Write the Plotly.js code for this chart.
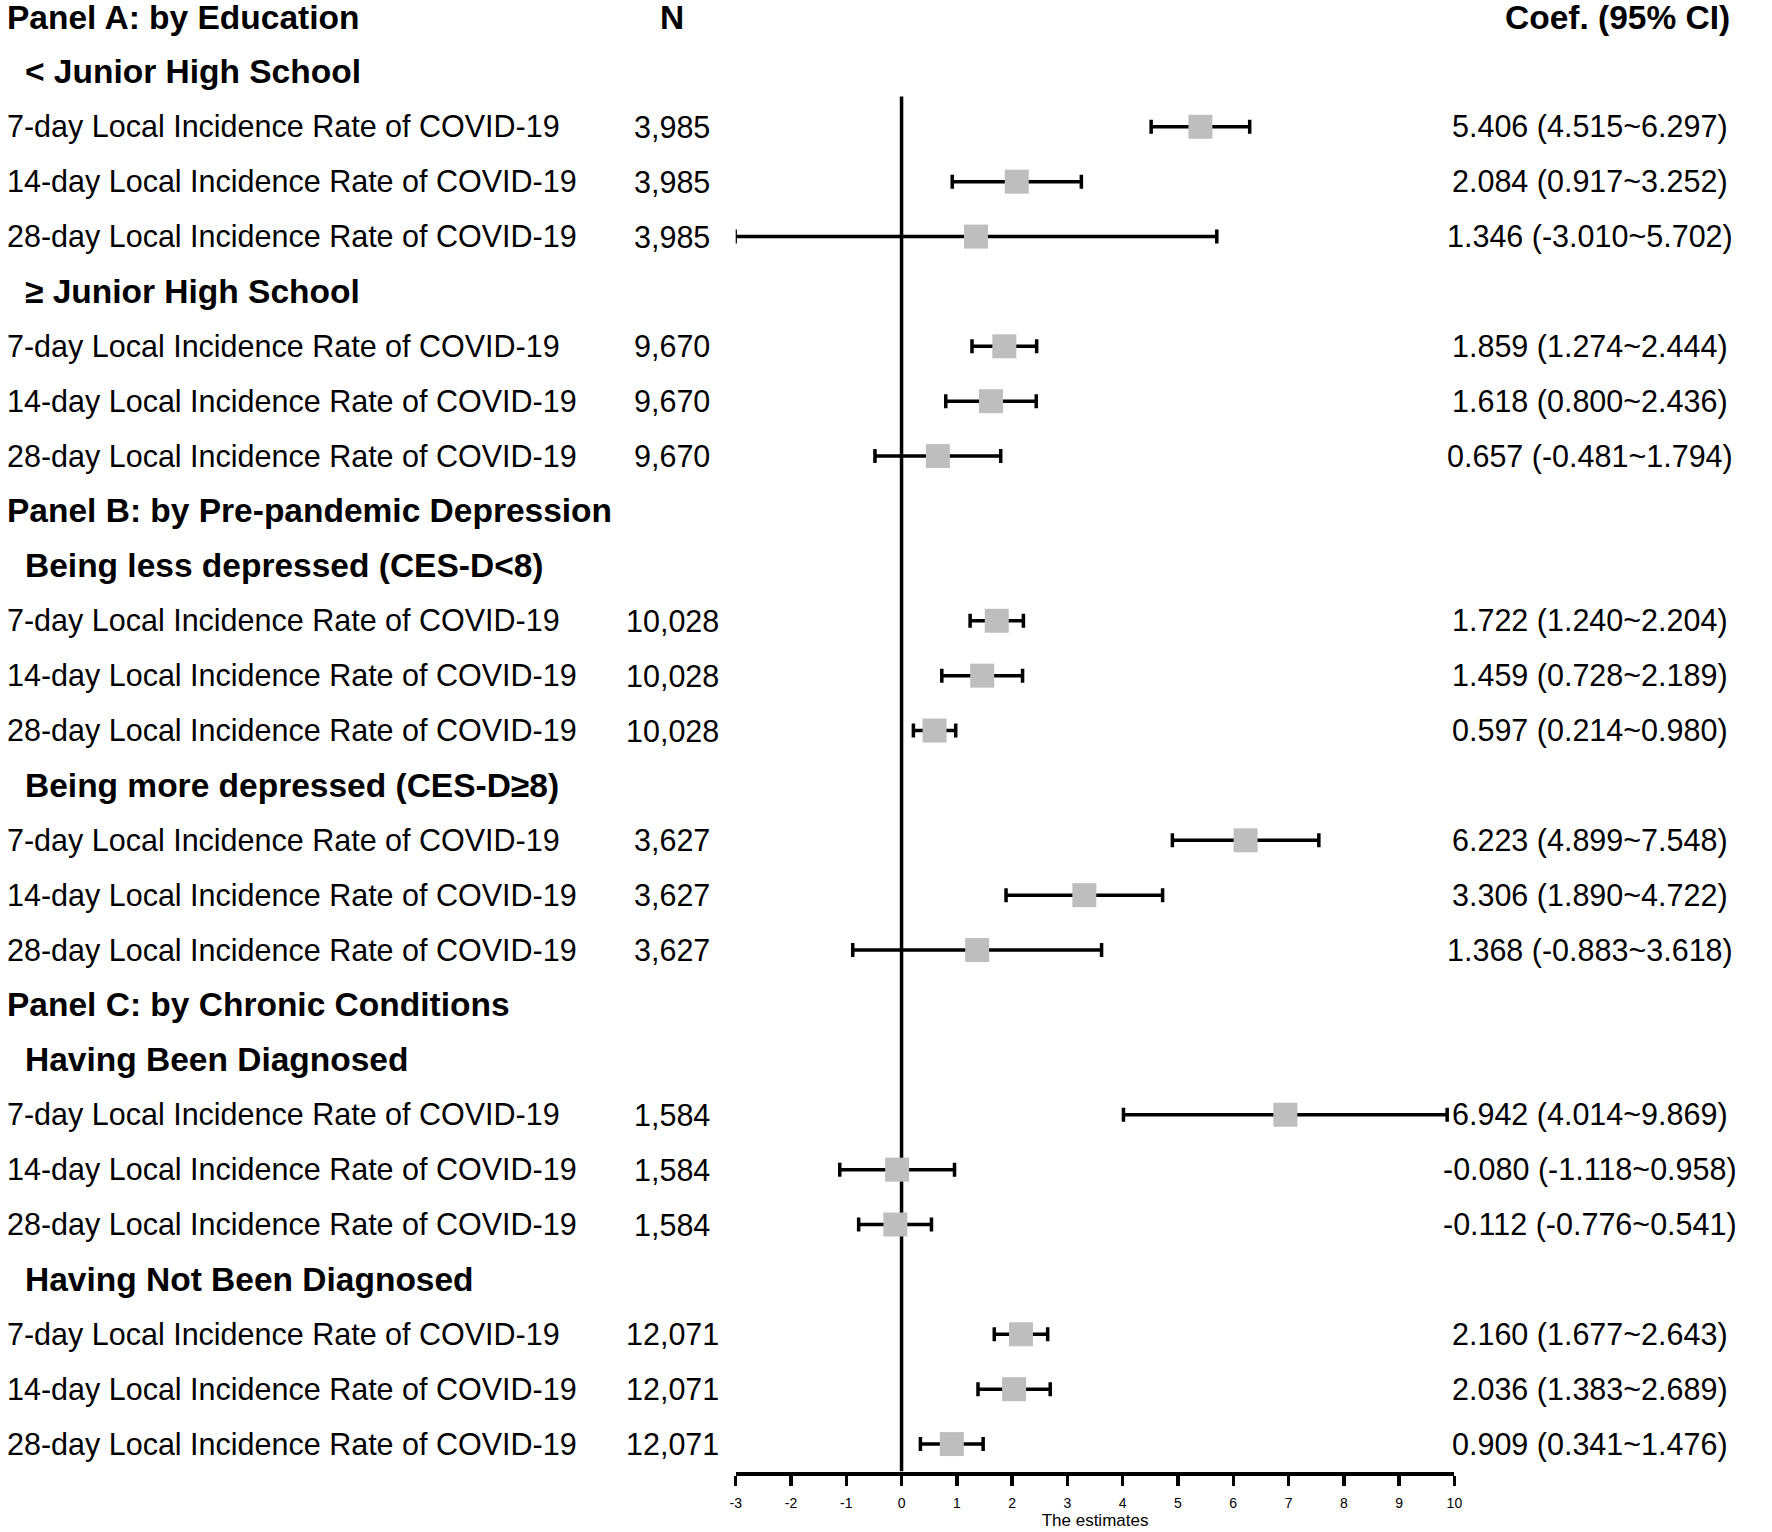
<!DOCTYPE html>
<html>
<head>
<meta charset="utf-8">
<script src="https://cdn.plot.ly/plotly-3.0.1.min.js"></script>
<style>
  html, body { margin: 0; padding: 0; background: #ffffff; }
  #chart { width: 1772px; height: 1532px; }
</style>
</head>
<body>
<div id="chart"></div>
<script>
// ---------------- data ----------------
const panels = [
  "Panel A: by Education",
  "Panel B: by Pre-pandemic Depression",
  "Panel C: by Chronic Conditions"
];
const groups = [
  "< Junior High School",
  "≥ Junior High School",
  "Being less depressed (CES-D<8)",
  "Being more depressed (CES-D≥8)",
  "Having Been Diagnosed",
  "Having Not Been Diagnosed"
];
const measures = [
  "7-day Local Incidence Rate of COVID-19",
  "14-day Local Incidence Rate of COVID-19",
  "28-day Local Incidence Rate of COVID-19"
];
const nByGroup = ["3,985", "9,670", "10,028", "3,627", "1,584", "12,071"];
const coef  = [5.406, 2.084, 1.346, 1.859, 1.618, 0.657, 1.722, 1.459, 0.597, 6.223, 3.306, 1.368, 6.942, -0.080, -0.112, 2.160, 2.036, 0.909];
const lower = [4.515, 0.917, -3.010, 1.274, 0.800, -0.481, 1.240, 0.728, 0.214, 4.899, 1.890, -0.883, 4.014, -1.118, -0.776, 1.677, 1.383, 0.341];
const upper = [6.297, 3.252, 5.702, 2.444, 2.436, 1.794, 2.204, 2.189, 0.980, 7.548, 4.722, 3.618, 9.869, 0.958, 0.541, 2.643, 2.689, 1.476];
const xTicks = [-3, -2, -1, 0, 1, 2, 3, 4, 5, 6, 7, 8, 9, 10];
const xTitle = "The estimates";
const headerN = "N";
const headerCoef = "Coef. (95% CI)";

// ---------------- layout helpers ----------------
const W = 1772, H = 1532;
const FONT = "Liberation Sans, Arial, Helvetica, sans-serif";
const px = v => v / W;

// Build row structure
const rows = [];
panels.forEach((p, pi) => {
  rows.push({ type: "panel", text: p });
  [2 * pi, 2 * pi + 1].forEach(g => {
    rows.push({ type: "group", text: groups[g] });
    measures.forEach((m, mi) => {
      rows.push({ type: "item", text: m, n: nByGroup[g], k: g * 3 + mi });
    });
  });
});

const itemY = new Array(coef.length);
const annotations = [];
const bold = { family: FONT, size: 33.5, color: "#000" };
const reg = { family: FONT, size: 30.5, color: "#000" };

rows.forEach((r, i) => {
  if (r.type === "panel") {
    annotations.push({ xref: "paper", yref: "y", x: px(5), y: i, text: "<b>" + r.text.replace(/</g, "&lt;") + "</b>",
      xanchor: "left", yanchor: "middle", showarrow: false, font: bold });
  } else if (r.type === "group") {
    annotations.push({ xref: "paper", yref: "y", x: px(23), y: i, text: "<b>" + r.text.replace(/</g, "&lt;") + "</b>",
      xanchor: "left", yanchor: "middle", showarrow: false, font: bold });
  } else {
    itemY[r.k] = i;
    annotations.push({ xref: "paper", yref: "y", x: px(5), y: i, text: r.text,
      xanchor: "left", yanchor: "middle", showarrow: false, font: reg });
    annotations.push({ xref: "paper", yref: "y", x: px(672), y: i, text: r.n,
      xanchor: "center", yanchor: "middle", showarrow: false, font: reg });
    const k = r.k;
    const s = coef[k].toFixed(3) + " (" + lower[k].toFixed(3) + "~" + upper[k].toFixed(3) + ")";
    annotations.push({ xref: "paper", yref: "y", x: px(1590), y: i, text: s,
      xanchor: "center", yanchor: "middle", showarrow: false, font: reg });
  }
});
// column headers on row 0
annotations.push({ xref: "paper", yref: "y", x: px(672), y: 0, text: "<b>" + headerN + "</b>",
  xanchor: "center", yanchor: "middle", showarrow: false, font: bold });
annotations.push({ xref: "paper", yref: "y", x: px(1617), y: 0, text: "<b>" + headerCoef + "</b>",
  xanchor: "center", yanchor: "middle", showarrow: false, font: bold });

const trace = {
  type: "scatter",
  mode: "markers",
  x: coef,
  y: itemY,
  marker: { symbol: "square", size: 24, color: "#bebebe", line: { width: 0 } },
  error_x: {
    type: "data",
    symmetric: false,
    array: coef.map((c, k) => upper[k] - c),
    arrayminus: coef.map((c, k) => c - lower[k]),
    color: "#000000",
    thickness: 3.5,
    width: 7
  },
  cliponaxis: false,
  hoverinfo: "skip",
  showlegend: false
};

const layout = {
  width: W,
  height: H,
  autosize: false,
  margin: { l: 0, r: 0, t: 0, b: 0 },
  paper_bgcolor: "#ffffff",
  plot_bgcolor: "#ffffff",
  showlegend: false,
  xaxis: {
    domain: [735.7 / W, 1454.4 / W],
    range: [-3, 10],
    tickmode: "array",
    tickvals: xTicks,
    ticktext: xTicks.map(String),
    showgrid: false,
    zeroline: false,
    showline: true,
    linecolor: "#000",
    linewidth: 4,
    ticks: "outside",
    ticklen: 10,
    tickwidth: 3.5,
    tickcolor: "#000",
    ticklabelstandoff: 6,
    tickfont: { family: FONT, size: 14, color: "#000" },
    title: { text: xTitle, font: { family: FONT, size: 17, color: "#000" }, standoff: 2 },
    automargin: false,
    fixedrange: true
  },
  yaxis: {
    domain: [60.5 / H, 1],
    range: [26.5, -0.31],
    visible: false,
    showgrid: false,
    zeroline: false,
    fixedrange: true
  },
  shapes: [
    { type: "line", xref: "x", yref: "y", x0: 0, x1: 0, y0: 1.45, y1: 26.5,
      line: { color: "#000", width: 3.5 }, layer: "below" }
  ],
  annotations: annotations
};

Plotly.newPlot("chart", [trace], layout, { staticPlot: true, displayModeBar: false });
</script>
</body>
</html>
